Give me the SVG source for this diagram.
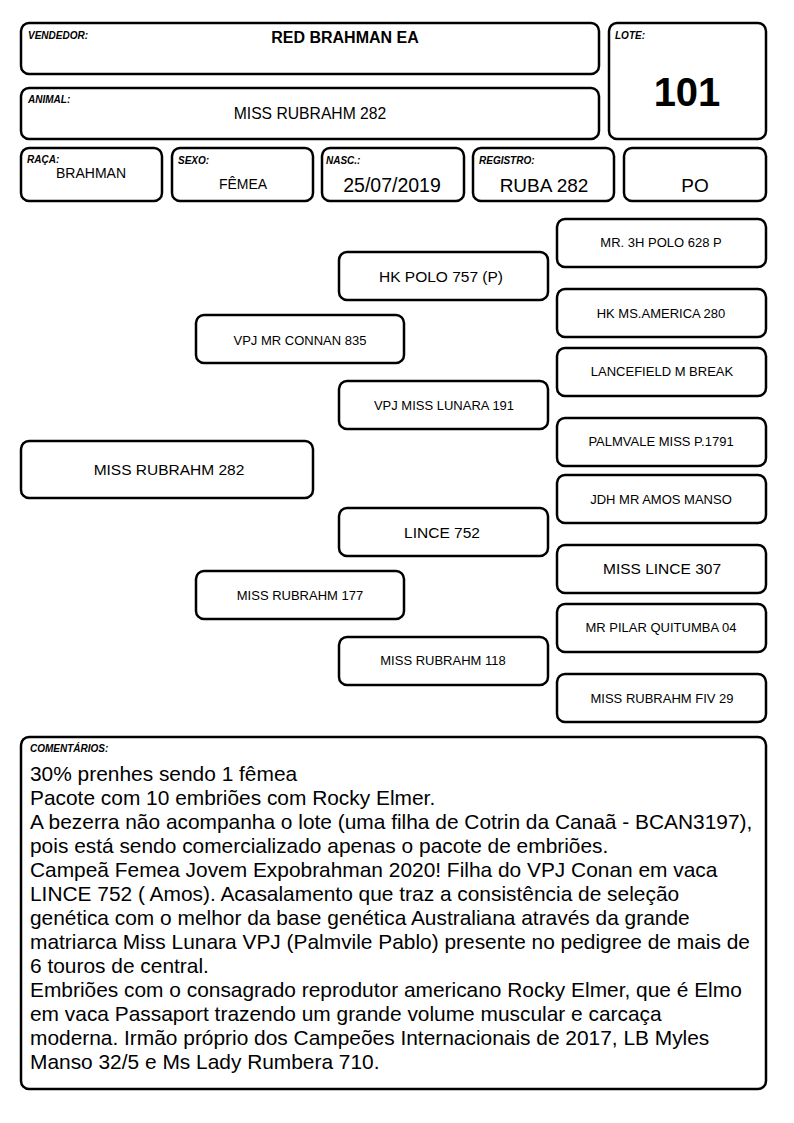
<svg xmlns="http://www.w3.org/2000/svg" width="794" height="1123" viewBox="0 0 794 1123">
<style>
rect{fill:#fff;stroke:#000;stroke-width:2.5}
text{font-family:"Liberation Sans",Arial,sans-serif;fill:#000}
.lb{font-size:10px;font-weight:bold;font-style:italic}
.c{text-anchor:middle}
.s{font-size:13px}
.m{font-size:15.5px}
.cm{font-size:20.9px}
</style>
<rect x="0" y="0" width="794" height="1123" style="fill:#fff;stroke:none"/>
<g id="vendedor"><rect x="21" y="23" width="578" height="51" rx="8"/><text class="lb" x="28" y="39">VENDEDOR:</text><text x="345" y="43" class="c" style="font-size:16px;font-weight:bold">RED BRAHMAN EA</text></g>
<g id="lote"><rect x="609" y="23" width="157" height="116" rx="8"/><text class="lb" x="615" y="39">LOTE:</text><text x="687" y="106" class="c" style="font-size:40px;font-weight:bold">101</text></g>
<g id="animal"><rect x="21" y="88" width="578" height="51" rx="8"/><text class="lb" x="28" y="103">ANIMAL:</text><text x="310" y="119" class="c" style="font-size:15.7px">MISS RUBRAHM 282</text></g>
<g id="raca"><rect x="21" y="148" width="141" height="53" rx="8"/><text class="lb" x="27" y="163">RAÇA:</text><text x="91" y="178" class="c" style="font-size:14px">BRAHMAN</text></g>
<g id="sexo"><rect x="172" y="148" width="141" height="53" rx="8"/><text class="lb" x="178" y="164">SEXO:</text><text x="243" y="189" class="c" style="font-size:14px">FÊMEA</text></g>
<g id="nasc"><rect x="322" y="148" width="142" height="53" rx="8"/><text class="lb" x="326" y="164">NASC.:</text><text x="392" y="192" class="c" style="font-size:19.5px">25/07/2019</text></g>
<g id="registro"><rect x="473" y="148" width="141" height="53" rx="8"/><text class="lb" x="479" y="164">REGISTRO:</text><text x="544" y="192" class="c" style="font-size:19px">RUBA 282</text></g>
<g id="po"><rect x="624" y="148" width="142" height="53" rx="8"/><text x="695" y="192" class="c" style="font-size:19px">PO</text></g>
<g id="connectors"></g>
<g id="p-mr3h"><rect x="557" y="219" width="209" height="48" rx="8"/><text class="c s" x="661" y="247">MR. 3H POLO 628 P</text></g>
<g id="p-hkpolo"><rect x="339" y="252" width="209" height="48" rx="8"/><text class="c m" x="441" y="282">HK POLO 757 (P)</text></g>
<g id="p-hkms"><rect x="557" y="289" width="209" height="48" rx="8"/><text class="c s" x="661" y="318">HK MS.AMERICA 280</text></g>
<g id="p-connan"><rect x="196" y="315" width="208" height="48" rx="8"/><text class="c s" x="300" y="345">VPJ MR CONNAN 835</text></g>
<g id="p-lance"><rect x="557" y="348" width="209" height="48" rx="8"/><text class="c s" x="662" y="376">LANCEFIELD M BREAK</text></g>
<g id="p-lunara"><rect x="339" y="381" width="209" height="48" rx="8"/><text class="c s" x="444" y="410">VPJ MISS LUNARA 191</text></g>
<g id="p-palm"><rect x="557" y="418" width="209" height="48" rx="8"/><text class="c s" x="661" y="446">PALMVALE MISS P.1791</text></g>
<g id="p-main"><rect x="21" y="441" width="292" height="57" rx="8"/><text class="c m" x="169" y="475">MISS RUBRAHM 282</text></g>
<g id="p-jdh"><rect x="557" y="475" width="209" height="48" rx="8"/><text class="c s" x="661" y="504">JDH MR AMOS MANSO</text></g>
<g id="p-lince"><rect x="339" y="508" width="209" height="48" rx="8"/><text class="c m" x="442" y="538">LINCE 752</text></g>
<g id="p-lince307"><rect x="557" y="545" width="209" height="48" rx="8"/><text class="c m" x="662" y="574">MISS LINCE 307</text></g>
<g id="p-177"><rect x="196" y="571" width="208" height="48" rx="8"/><text class="c s" x="300" y="600">MISS RUBRAHM 177</text></g>
<g id="p-pilar"><rect x="557" y="604" width="209" height="48" rx="8"/><text class="c s" x="661" y="632">MR PILAR QUITUMBA 04</text></g>
<g id="p-118"><rect x="339" y="637" width="209" height="48" rx="8"/><text class="c s" x="443" y="665">MISS RUBRAHM 118</text></g>
<g id="p-fiv"><rect x="557" y="674" width="209" height="48" rx="8"/><text class="c s" x="662" y="703">MISS RUBRAHM FIV 29</text></g>
<g id="comentarios"><rect x="21" y="737" width="745" height="352" rx="8"/><text class="lb" x="30" y="752">COMENTÁRIOS:</text>
<text class="cm" x="30" y="781">30% prenhes sendo 1 fêmea</text>
<text class="cm" x="30" y="805">Pacote com 10 embriões com Rocky Elmer.</text>
<text class="cm" x="30" y="829">A bezerra não acompanha o lote (uma filha de Cotrin da Canaã - BCAN3197),</text>
<text class="cm" x="30" y="853">pois está sendo comercializado apenas o pacote de embriões.</text>
<text class="cm" x="30" y="877">Campeã Femea Jovem Expobrahman 2020! Filha do VPJ Conan em vaca</text>
<text class="cm" x="30" y="901">LINCE 752 ( Amos). Acasalamento que traz a consistência de seleção</text>
<text class="cm" x="30" y="925">genética com o melhor da base genética Australiana através da grande</text>
<text class="cm" x="30" y="949">matriarca Miss Lunara VPJ (Palmvile Pablo) presente no pedigree de mais de</text>
<text class="cm" x="30" y="973">6 touros de central.</text>
<text class="cm" x="30" y="997">Embriões com o consagrado reprodutor americano Rocky Elmer, que é Elmo</text>
<text class="cm" x="30" y="1021">em vaca Passaport trazendo um grande volume muscular e carcaça</text>
<text class="cm" x="30" y="1045">moderna. Irmão próprio dos Campeões Internacionais de 2017, LB Myles</text>
<text class="cm" x="30" y="1069">Manso 32/5 e Ms Lady Rumbera 710.</text>
</g>
</svg>
